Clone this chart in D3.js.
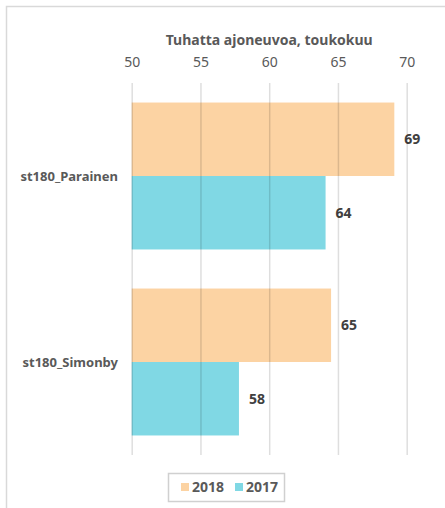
<!DOCTYPE html>
<html><head><meta charset="utf-8">
<script src="https://cdn.jsdelivr.net/npm/d3@7"></script>
<style>
html,body{margin:0;padding:0;background:#fff;}
svg{display:block;font-family:"Noto Sans",sans-serif;}
</style></head>
<body>
<div id="chart"></div>
<script>
const categories = ["st180_Parainen", "st180_Simonby"];
const seriesNames = ["2018", "2017"];
const values2018 = [69.1, 64.5];
const values2017 = [64.1, 57.8];
const xTicks = [50, 55, 60, 65, 70];
const labels2018 = ["69", "65"];
const labels2017 = ["64", "58"];
const title = "Tuhatta ajoneuvoa, toukokuu";
const colors = {"2018": "#FCD3A3", "2017": "#80D8E4"};

const W = 445, H = 508;
const svg = d3.select("#chart").append("svg").attr("width", W).attr("height", H);

// outer border
svg.append("path").attr("d", "M6.5,508 V6.5 H445").attr("fill", "none").attr("stroke", "#d9d9d9").attr("stroke-width", 1.5);

const x = d3.scaleLinear().domain([50, 70]).range([131.7, 406.7]);
const y0 = d3.scaleBand().domain(categories).range([83, 455]).paddingInner(0.21).paddingOuter(0.105);
const y1 = d3.scaleBand().domain(seriesNames).range([0, y0.bandwidth()]);

const data = categories.map((c, i) => ({cat: c, vals: [
  {s: "2018", v: values2018[i], l: labels2018[i]},
  {s: "2017", v: values2017[i], l: labels2017[i]}
]}));

// bars
const g = svg.append("g");
data.forEach(d => {
  d.vals.forEach(b => {
    g.append("rect")
      .attr("x", x(50))
      .attr("y", y0(d.cat) + y1(b.s))
      .attr("width", x(b.v) - x(50))
      .attr("height", y1.bandwidth())
      .attr("fill", colors[b.s]);
    g.append("text")
      .attr("x", x(b.v) + 10)
      .attr("y", y0(d.cat) + y1(b.s) + y1.bandwidth() / 2)
      .attr("dy", "0.35em")
      .attr("font-size", 14).attr("font-weight", "bold").attr("fill", "#404040")
      .text(b.l);
  });
});

// gridlines on top (semi-transparent)
const axis = d3.axisTop(x).tickValues(xTicks).tickSize(-(455 - 83)).tickFormat(d3.format("d"));
const ag = svg.append("g").attr("transform", "translate(0,83)").call(axis);
ag.select(".domain").remove();
ag.selectAll(".tick line").attr("stroke", "rgba(0,0,0,0.13)").attr("stroke-width", 1.5);
ag.selectAll(".tick text").attr("y", -16).attr("dy", 0).attr("font-size", 14).attr("fill", "#595959").attr("font-family", "Noto Sans");

// title
svg.append("text").attr("x", (x(50) + x(70)) / 2).attr("y", 45).attr("text-anchor", "middle")
  .attr("font-size", 14).attr("font-weight", "bold").attr("fill", "#595959").text(title);

// category labels
categories.forEach(c => {
  svg.append("text").attr("x", 118).attr("y", y0(c) + y0.bandwidth() / 2).attr("dy", "0.35em")
    .attr("text-anchor", "end").attr("font-size", 13).attr("font-weight", "bold").attr("fill", "#595959").text(c);
});

// legend
const lg = svg.append("g");
lg.append("rect").attr("x", 168.5).attr("y", 473.5).attr("width", 116).attr("height", 28)
  .attr("fill", "#fff").attr("stroke", "#d0d0d0").attr("stroke-width", 1.5);
const legendX = [181, 235];
seriesNames.forEach((s, i) => {
  lg.append("rect").attr("x", legendX[i]).attr("y", 483).attr("width", 8).attr("height", 8).attr("fill", colors[s]);
  lg.append("text").attr("x", legendX[i] + 11).attr("y", 487).attr("dy", "0.35em")
    .attr("font-size", 14).attr("font-weight", "bold").attr("fill", "#595959").text(s);
});
</script>
</body></html>
